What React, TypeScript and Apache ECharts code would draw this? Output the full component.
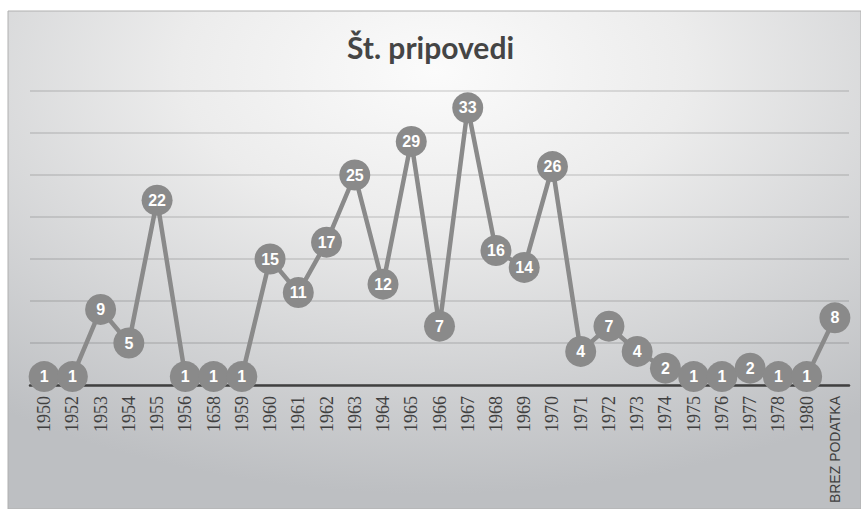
import React, { useEffect, useRef } from "react";
import * as echarts from "echarts";

const titleText = "Št. pripovedi";
const categories = [
  "1950", "1952", "1953", "1954", "1955", "1956", "1658", "1959", "1960", "1961",
  "1962", "1963", "1964", "1965", "1966", "1967", "1968", "1969", "1970", "1971",
  "1972", "1973", "1974", "1975", "1976", "1977", "1978", "1980", "BREZ PODATKA",
];
const values = [
  1, 1, 9, 5, 22, 1, 1, 1, 15, 11,
  17, 25, 12, 29, 7, 33, 16, 14, 26, 4,
  7, 4, 2, 1, 1, 2, 1, 1, 8,
];
const yMin = 0;
const yMax = 35;
const yStep = 5;

export default function App() {
  const ref = useRef<HTMLDivElement>(null);
  useEffect(() => {
    document.body.style.margin = "0";
    const el = ref.current!;
    const chart = echarts.init(el, null, { renderer: "svg" });
    const W = 861;
    const H = 509;
    chart.setOption({
      animation: false,
      graphic: [
        {
          type: "rect",
          z: -10,
          silent: true,
          shape: { x: 8, y: 11, width: W - 8, height: H - 11 },
          style: {
            fill: new echarts.graphic.RadialGradient(0.5, 0.12, 0.85, [
              { offset: 0, color: "#fbfbfb" },
              { offset: 0.35, color: "#ececec" },
              { offset: 1, color: "#bdbfc2" },
            ]),
            stroke: "#b0b0b0",
            lineWidth: 1,
          },
        },
      ],
      title: {
        text: titleText,
        left: "center",
        top: 27,
        textStyle: {
          fontFamily: "Lato",
          fontSize: 30,
          fontWeight: "bold",
          color: "#454545",
        },
      },
      grid: { left: 30, right: 12, top: 91, bottom: 124, containLabel: false },
      xAxis: {
        type: "category",
        data: categories,
        boundaryGap: true,
        axisLine: { show: true, lineStyle: { color: "#404040", width: 2.5 } },
        axisTick: { show: false },
        axisLabel: {
          rotate: 90,
          interval: 0,
          margin: 11,
          fontFamily: "Liberation Serif",
          fontSize: 18,
          color: "#404040",
          formatter: (v: string) => (v.length > 6 ? "{s|" + v + "}" : v),
          rich: {
            s: {
              fontFamily: "Liberation Sans",
              fontSize: 14,
              color: "#404040",
            },
          },
        },
      },
      yAxis: {
        type: "value",
        min: yMin,
        max: yMax,
        interval: yStep,
        axisLine: { show: false },
        axisTick: { show: false },
        axisLabel: { show: false },
        splitLine: { show: true, lineStyle: { color: "rgba(0,0,0,0.14)", width: 1.5 } },
      },
      series: [
        {
          type: "line",
          data: values,
          symbol: "circle",
          symbolSize: 31,
          lineStyle: { color: "#8a8a8a", width: 4.5 },
          itemStyle: { color: "#8a8a8a" },
          label: {
            show: true,
            position: "inside",
            color: "#ffffff",
            fontFamily: "Liberation Sans",
            fontWeight: "bold",
            fontSize: 16,
          },
          z: 3,
        },
      ],
    });
    return () => chart.dispose();
  }, []);
  return <div ref={ref} style={{ width: 861, height: 509 }} />;
}
